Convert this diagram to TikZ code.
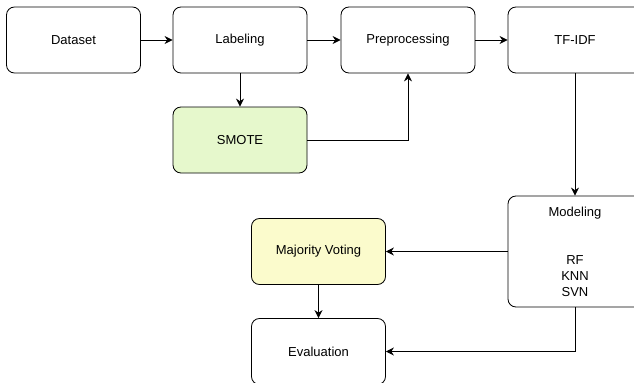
\documentclass[tikz,border=0pt]{standalone}
\usepackage{fontspec}
\setmainfont{Liberation Sans}
\usetikzlibrary{arrows.meta}
\definecolor{smotegreen}{HTML}{E6F8CC}
\definecolor{voteyellow}{HTML}{FBFBCC}

\begin{document}
\begin{tikzpicture}[
        box/.style={draw, rounded corners=0.2cm, minimum width=3.35cm, minimum height=1.65cm, align=center, font=\fontsize{9.25}{11.4}\selectfont},
        line width=0.6pt,
        >={Stealth[length=2mm,width=2mm]}
    ]
        \fill[white] (0,0) rectangle (15.85,-9.55);
        \clip (0,0) rectangle (15.85,-9.55);

        \node[box] at (1.8375,-1) (A) {Dataset};
        \node[box] at (6,-1) (B) {Labeling};
        \node[box] at (10.2,-1) (C) {Preprocessing};
        \node[box] at (14.375,-1) (D) {TF-IDF};
        \node[box, fill=smotegreen] at (6,-3.5) (E) {SMOTE};
        \node[box, minimum height=2.775cm] at (14.375,-6.2875) (F) {Modeling\\[0.8cm]RF\\KNN\\SVN};
        \node[box, fill=voteyellow] at (7.9625,-6.2875) (G) {Majority Voting};
        \node[box] at (7.9625,-8.7875) (H) {Evaluation};

        \draw [->] (A) -- (B);
        \draw [->] (B) -- (C);
        \draw [->] (C) -- (D);
        \draw [->] (B) -- (E);
        \draw [->] (E) -| (C);
        \draw [->] (D) -- (F);
        \draw [->] (F) -- (G);
        \draw [->] (G) -- (H);
        \draw [->] (F) |- (H);
    \end{tikzpicture}
\end{document}
